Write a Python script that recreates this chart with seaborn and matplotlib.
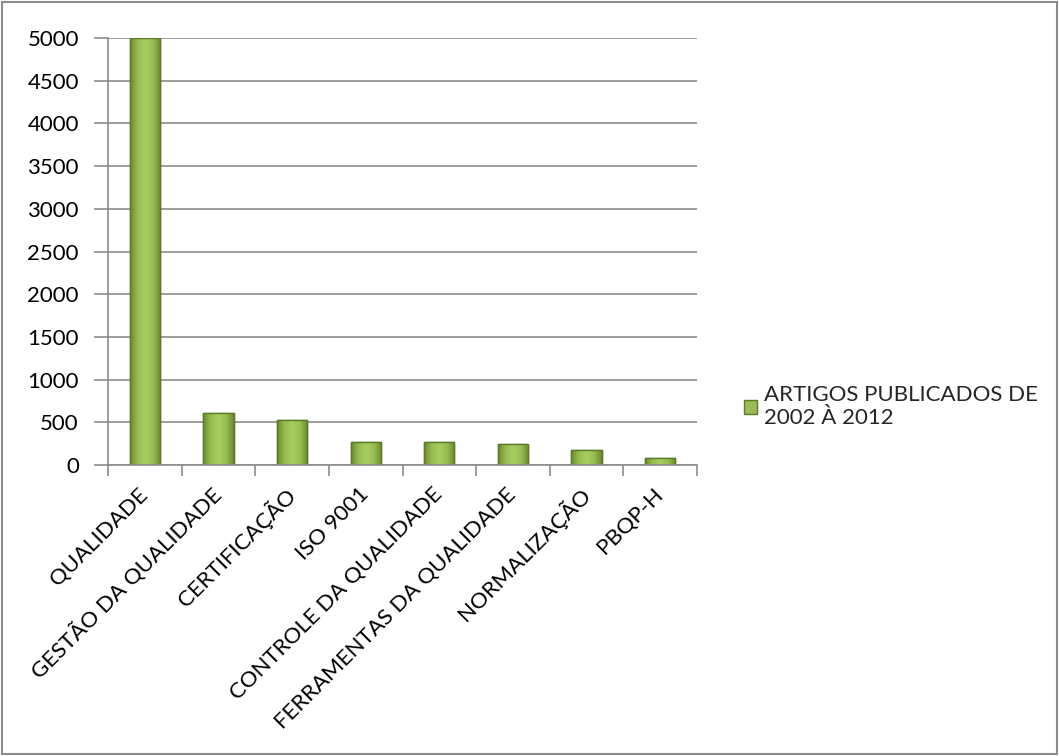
import matplotlib
matplotlib.use("Agg")
import matplotlib.pyplot as plt
import seaborn as sns
import numpy as np
import pandas as pd
from matplotlib.colors import LinearSegmentedColormap
from matplotlib.patches import Patch

categories = ["QUALIDADE", "GESTÃO DA QUALIDADE", "CERTIFICAÇÃO", "ISO 9001",
              "CONTROLE DA QUALIDADE", "FERRAMENTAS DA QUALIDADE", "NORMALIZAÇÃO", "PBQP-H"]
values = [5000, 605, 530, 275, 265, 245, 175, 78]
series_name = "ARTIGOS PUBLICADOS DE\n2002 À 2012"
yticks = [0, 500, 1000, 1500, 2000, 2500, 3000, 3500, 4000, 4500, 5000]

sns.set_theme(style="white")
plt.rcParams['font.family'] = ['Lato', 'DejaVu Sans']

df = pd.DataFrame({"cat": categories, "val": values})

fig = plt.figure(figsize=(10.59, 7.56), dpi=100)
ax = fig.add_axes([108 / 1059, 1 - 465 / 756, (697 - 108) / 1059, (465 - 38) / 756])

sns.barplot(data=df, x="cat", y="val", color="#9BBB59", width=0.41,
            edgecolor="#5C7A2A", linewidth=1.0, ax=ax, saturation=1)

cmap = LinearSegmentedColormap.from_list("g", ["#6A8730", "#97BD50", "#A8CC60", "#97BD50", "#6A8730"])
grad = np.linspace(0, 1, 256).reshape(1, -1)
for p in list(ax.patches):
    x0, y0 = p.get_x(), p.get_y()
    w, h = p.get_width(), p.get_height()
    im = ax.imshow(grad, cmap=cmap, aspect="auto", extent=[x0, x0 + w, y0, y0 + h],
                   zorder=p.get_zorder() + 0.1, interpolation="bicubic")
    im.set_clip_path(p)
    ax.add_patch(plt.Rectangle((x0, y0), w, h, fill=False, edgecolor="#5C7A2A",
                               linewidth=1.0, zorder=p.get_zorder() + 0.2))

ax.set_xlim(-0.5, len(categories) - 0.5)
ax.set_ylim(0, 5000)
ax.set_yticks(yticks)
ax.set_yticklabels([str(t) for t in yticks], fontsize=16, color="#000000")
ax.set_xticks(range(len(categories)))
ax.set_xticklabels(categories, rotation=45, ha="right", va="center", rotation_mode="anchor",
                   fontsize=16, color="#000000")
ax.set_xlabel("")
ax.set_ylabel("")

ax.yaxis.grid(True, color="#8C8C8C", linewidth=1.2)
ax.set_axisbelow(True)
for s in ["top", "right"]:
    ax.spines[s].set_visible(False)
for s in ["left", "bottom"]:
    ax.spines[s].set_color("#8C8C8C")
    ax.spines[s].set_linewidth(1.2)

ax.tick_params(axis="x", length=0, pad=19)
ax.tick_params(axis="y", length=10, color="#8C8C8C", width=1.2, pad=11, left=True)
ax.set_xticks(np.arange(-0.5, len(categories), 1.0), minor=True)
ax.tick_params(axis="x", which="minor", length=8, color="#8C8C8C", width=1.2, bottom=True)

handle = Patch(facecolor="#9BBB59", edgecolor="#5C7A2A")
fig.legend([handle], [series_name], loc="center left",
           bbox_to_anchor=(0.692, 0.462), frameon=False, fontsize=16,
           handlelength=0.6, handleheight=0.6, handletextpad=0.3, borderpad=0)

fig.patches.append(plt.Rectangle((0.002, 0.002), 0.996, 0.995, transform=fig.transFigure,
                                 fill=False, edgecolor="#8C8C8C", linewidth=1.5))

fig.savefig("out.png", dpi=100)
